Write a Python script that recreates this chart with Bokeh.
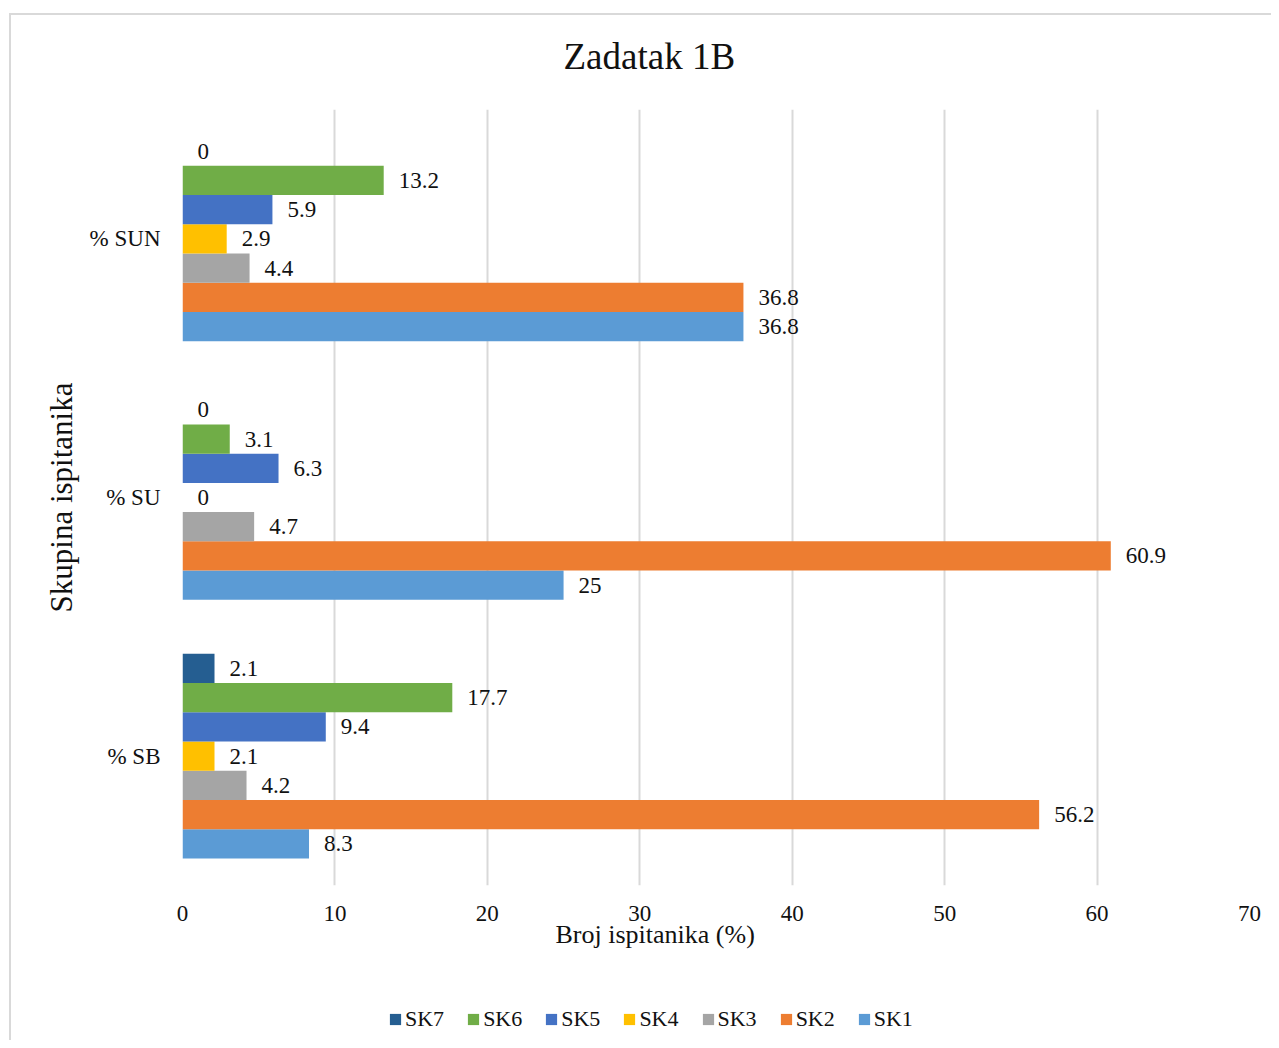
from bokeh.plotting import figure
from bokeh.layouts import column
from bokeh.models import (ColumnDataSource, FactorRange, Range1d, FixedTicker, Legend, LegendItem,
                          InlineStyleSheet, Title)
from bokeh.transform import dodge
from bokeh.core.properties import value
from bokeh.embed import file_html
from bokeh.resources import INLINE

# ---- data ----
categories = ["% SB", "% SU", "% SUN"]
series_names = ["SK1", "SK2", "SK3", "SK4", "SK5", "SK6", "SK7"]
SK1 = [8.3, 25, 36.8]
SK2 = [56.2, 60.9, 36.8]
SK3 = [4.2, 4.7, 4.4]
SK4 = [2.1, 0, 2.9]
SK5 = [9.4, 6.3, 5.9]
SK6 = [17.7, 3.1, 13.2]
SK7 = [2.1, 0, 0]
x_ticks = [0, 10, 20, 30, 40, 50, 60, 70]
title_text = "Zadatak 1B"
x_title = "Broj ispitanika (%)"
y_title = "Skupina ispitanika"

colors = ["#5B9BD5", "#ED7D31", "#A5A5A5", "#FFC000", "#4472C4", "#70AD47", "#255E91"]
series_values = [SK1, SK2, SK3, SK4, SK5, SK6, SK7]

FONT = "Liberation Serif"
W, H_MAIN, H_LEG = 1271, 990, 50

data = {"cat": categories}
for n, v in zip(series_names, series_values):
    data[n] = v
    data[n + "_lbl"] = [("%g" % x) for x in v]
src = ColumnDataSource(data)

p = figure(width=W, height=H_MAIN, y_range=FactorRange(*categories), x_range=Range1d(0, 70),
           output_backend="svg", toolbar_location=None,
           min_border_left=182, min_border_right=22, min_border_top=109, min_border_bottom=105)
p.outline_line_color = None
p.background_fill_color = "white"
p.border_fill_color = "white"

bar_h = 0.113
for i, (n, c) in enumerate(zip(series_names, colors)):
    off = (i - 3) * bar_h
    p.hbar(y=dodge("cat", off, range=p.y_range), right=n, left=0, height=bar_h,
           source=src, fill_color=c, line_color=None)
    p.text(x=n, y=dodge("cat", off, range=p.y_range), text=n + "_lbl", source=src,
           x_offset=15, text_baseline="middle", text_align="left",
           text_font=value(FONT), text_font_size="23px", text_color="#111111")

# title
p.title.text = title_text
p.title.align = "left"
p.title.offset = 381
p.title.standoff = 65
p.title.text_font = FONT
p.title.text_font_size = "37px"
p.title.text_font_style = "normal"
p.title.text_color = "#111111"

# axes
p.xaxis.ticker = FixedTicker(ticks=x_ticks)
p.xaxis.axis_line_color = None
p.xaxis.major_tick_line_color = None
p.xaxis.minor_tick_line_color = None
p.xaxis.major_label_text_font = FONT
p.xaxis.major_label_text_font_size = "23px"
p.xaxis.major_label_text_color = "#111111"
p.xaxis.major_label_standoff = 14

# x-axis title (placed below the axis, centred like the reference)
p.add_layout(Title(text=x_title, align="left", offset=373, standoff=-12,
                   text_font=FONT, text_font_size="26px", text_font_style="normal",
                   text_color="#111111"), "below")

p.yaxis.axis_line_color = None
p.yaxis.major_tick_line_color = None
p.yaxis.minor_tick_line_color = None
p.yaxis.major_label_text_font = FONT
p.yaxis.major_label_text_font_size = "23px"
p.yaxis.major_label_text_color = "#111111"
p.yaxis.major_label_standoff = 16
p.yaxis.axis_label = y_title
p.yaxis.axis_label_text_font = FONT
p.yaxis.axis_label_text_font_size = "31px"
p.yaxis.axis_label_text_font_style = "normal"
p.yaxis.axis_label_text_color = "#111111"
p.yaxis.axis_label_standoff = 8

p.xgrid.grid_line_color = "#d9d9d9"
p.xgrid.grid_line_width = 2
p.ygrid.grid_line_color = None

# legend strip (SK7 first), drawn in its own small figure below the chart
lf = figure(width=W, height=H_LEG, x_range=Range1d(0, 1), y_range=Range1d(0, 1),
            x_axis_type=None, y_axis_type=None, output_backend="svg", toolbar_location=None,
            min_border=0)
lf.outline_line_color = None
lf.grid.visible = False
lf_src = ColumnDataSource({"y": [5], "r": [0]})  # off-range placeholder, only the legend swatch shows
items = []
for n, c in reversed(list(zip(series_names, colors))):
    rr = lf.hbar(y="y", right="r", left=0, height=0.1, source=lf_src, fill_color=c, line_color=None)
    items.append(LegendItem(label=n, renderers=[rr]))
legend = Legend(items=items, orientation="horizontal", location=(206, 8),
                glyph_width=14, glyph_height=14, label_standoff=3, spacing=22,
                padding=0, margin=0, border_line_color=None, background_fill_alpha=0,
                label_text_font=FONT, label_text_font_size="22px", label_text_color="#111111",
                label_height=22)
lf.add_layout(legend, "center")

layout = column(p, lf, spacing=0)

# outer chart border (light grey frame like the reference)
layout.stylesheets = [InlineStyleSheet(css=""":host { position: relative; overflow: hidden; }
:host::after { content: ''; position: absolute; left: 9px; top: 13px; width: 1400px; height: 1200px;
  border: 2px solid #d9d9d9; pointer-events: none; z-index: 10; box-sizing: border-box; }""")]

open("out.html", "w").write(file_html(layout, INLINE))
